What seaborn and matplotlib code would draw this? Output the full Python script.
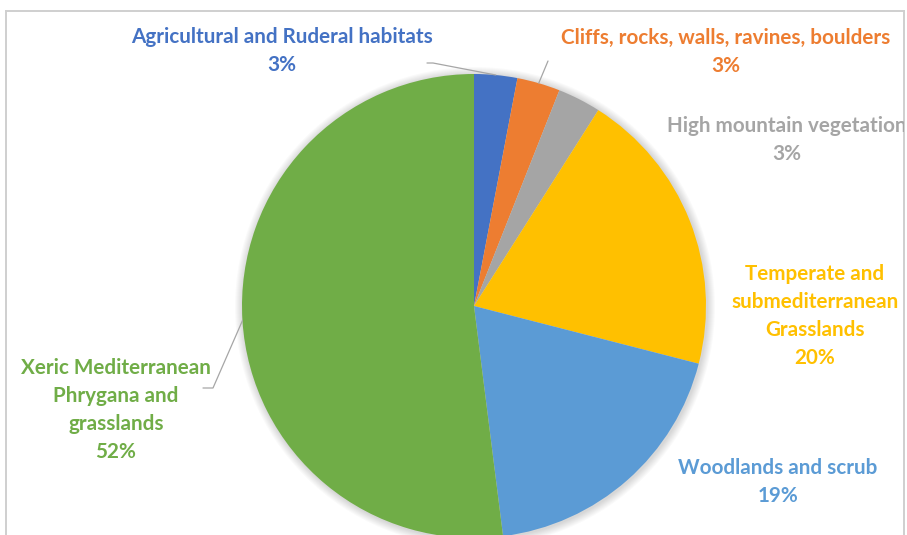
import numpy as np
import matplotlib
matplotlib.use("Agg")
import matplotlib.pyplot as plt
import seaborn as sns

sns.set_theme(style="white")
plt.rcParams['font.family'] = ['Lato', 'DejaVu Sans']

# Habitat shares (%)
habitats = [
    "Agricultural and Ruderal habitats",
    "Cliffs, rocks, walls, ravines, boulders",
    "High mountain vegetation",
    "Temperate and\nsubmediterranean\nGrasslands",
    "Woodlands and scrub",
    "Xeric Mediterranean\nPhrygana and\ngrasslands",
]
shares = [3, 3, 3, 20, 19, 52]
colors = ["#4472C4", "#ED7D31", "#A5A5A5", "#FFC000", "#5B9BD5", "#70AD47"]

# label anchor (x, y in pixels from top-left) and whether a leader line is drawn
label_pos = [(282, 51), (726, 52), (787, 140), (815, 316), (778, 482), (116, 410)]
leader = [True, True, False, False, False, True]

W, H = 907, 535
fig = plt.figure(figsize=(W / 100, H / 100), dpi=100)
fig.patch.set_facecolor("white")
# axes = chart frame, one data unit per pixel
x0, x1, ytop = 6, 904, 11
ax = fig.add_axes([x0 / W, 0, (x1 - x0) / W, (H - ytop) / H])
ax.set_xlim(x0, x1)
ax.set_ylim(0, H - ytop)
ax.set_xticks([])
ax.set_yticks([])
for side in ["left", "top", "right"]:
    ax.spines[side].set_color("#cfcfcf")
    ax.spines[side].set_linewidth(1.4)
ax.spines["bottom"].set_visible(False)

def py(y):
    return H - y

cx, cy, r = 474, py(306), 232

# soft shadow halo behind the pie
for k in range(1, 9):
    ax.add_patch(plt.Circle((cx + 1, cy - 1), r + k, color="black",
                            alpha=0.018, lw=0, zorder=0))

wedges, _ = ax.pie(shares, colors=colors, startangle=90, counterclock=False,
                   center=(cx, cy), radius=r, frame=True,
                   wedgeprops=dict(linewidth=0))
ax.set_xlim(x0, x1)
ax.set_ylim(0, H - ytop)
ax.set_aspect("equal")

for w, name, val, col, (lx, ly), ld in zip(wedges, habitats, shares, colors,
                                          label_pos, leader):
    ax.text(lx, py(ly), f"{name}\n{val}%", color=col, fontsize=14.9,
            fontweight="bold", ha="center", va="center", linespacing=1.48,
            clip_on=True, zorder=5)

# leader lines from wedge mid-angles to labels
for w, (lx, ly), ld, pts in zip(wedges, label_pos, leader,
                                [[(427, 63), (433, 63)], [(548, 61)], None,
                                 None, None, [(203, 388), (213, 388)]]):
    if not ld:
        continue
    mid = np.deg2rad((w.theta1 + w.theta2) / 2)
    ex, ey = cx + r * np.cos(mid), cy + r * np.sin(mid)
    xs = [p[0] for p in pts] + [ex]
    ys = [py(p[1]) for p in pts] + [ey]
    ax.plot(xs, ys, color="#a6a6a6", lw=0.9, zorder=4)

fig.savefig("out.png", dpi=100, facecolor="white")
